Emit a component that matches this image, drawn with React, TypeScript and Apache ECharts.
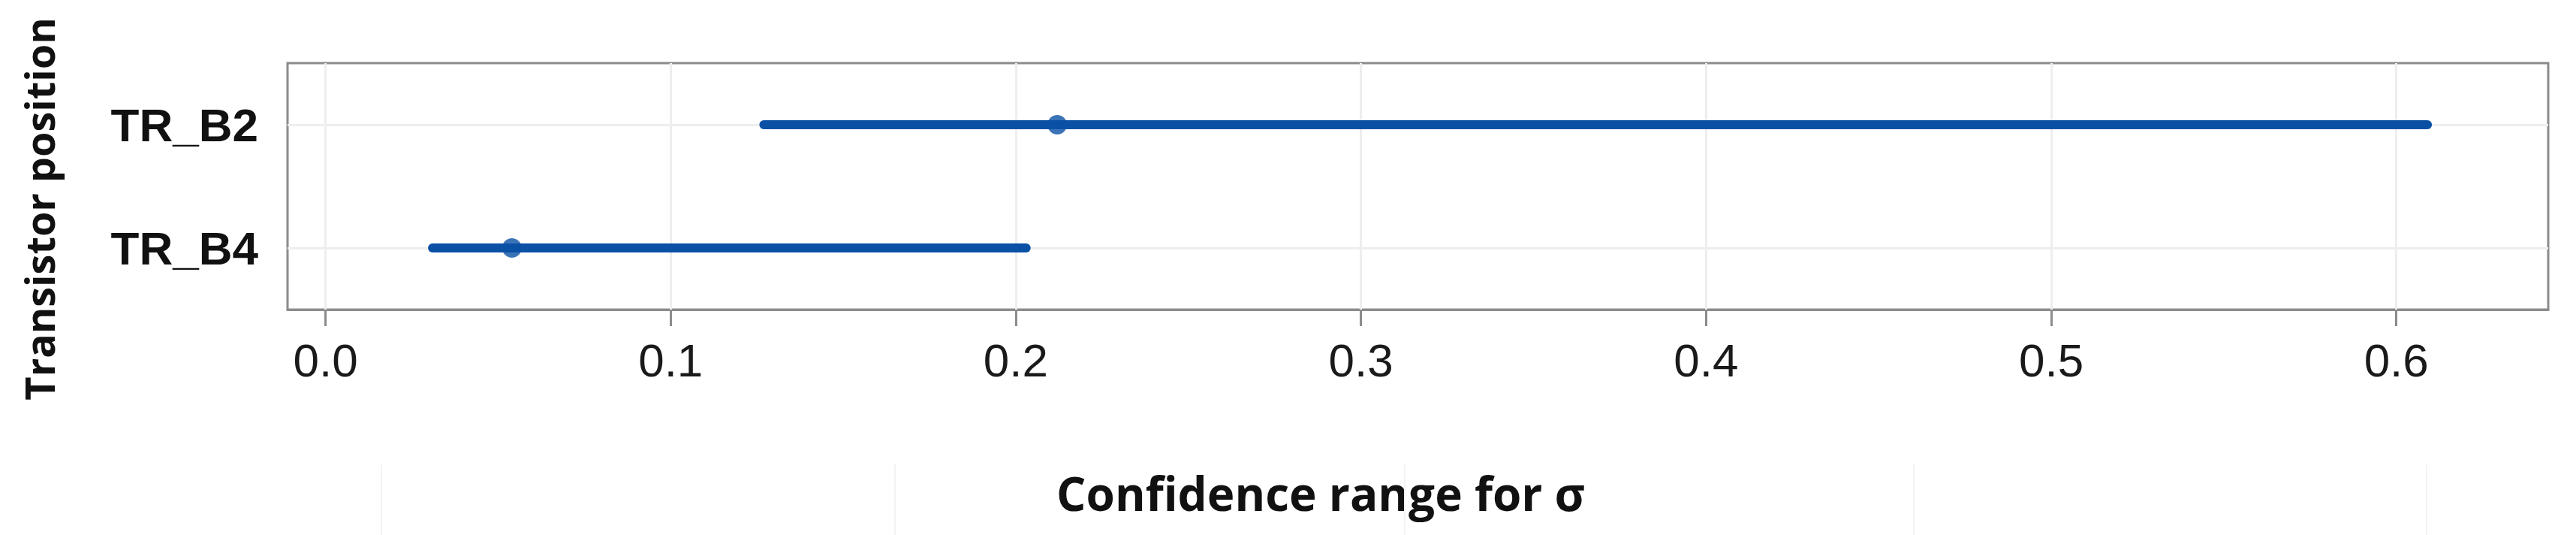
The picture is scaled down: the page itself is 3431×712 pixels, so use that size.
import React, { useEffect, useRef } from "react";
import * as echarts from "echarts";

const CATEGORIES = ["TR_B4", "TR_B2"];
const LOWER = [0.031, 0.127];
const ESTIMATE = [0.054, 0.212];
const UPPER = [0.203, 0.609];
const X_TICKS = [0, 0.1, 0.2, 0.3, 0.4, 0.5, 0.6];
const X_MIN = -0.011;
const X_MAX = 0.644;
const X_TITLE = "Confidence range for σ";
const Y_TITLE = "Transistor position";

const BLUE = "#0a50a5";
const FRAME = "#8c8c8c";
const GRIDLINE = "#eeeeee";

export default function App() {
  const ref = useRef<HTMLDivElement>(null);

  useEffect(() => {
    if (!ref.current) return;
    const chart = echarts.init(ref.current, undefined, { renderer: "svg" });

    const rangeSeries = CATEGORIES.map((c, i) => ({
      name: c + " range",
      type: "line",
      z: 3,
      showSymbol: false,
      symbol: "none",
      lineStyle: { color: BLUE, width: 12, cap: "round" },
      data: [
        [LOWER[i], i],
        [UPPER[i], i],
      ],
    }));

    const option: any = {
      animation: false,
      backgroundColor: "#ffffff",
      grid: {
        left: 383,
        top: 84,
        width: 3011,
        height: 328,
        show: true,
        borderColor: FRAME,
        borderWidth: 3,
        backgroundColor: "transparent",
      },
      xAxis: {
        type: "value",
        min: X_MIN,
        max: X_MAX,
        axisLine: { show: true, onZero: false, lineStyle: { color: FRAME, width: 3 } },
        axisTick: {
          show: true,
          length: 22,
          customValues: X_TICKS,
          lineStyle: { color: FRAME, width: 3 },
        },
        axisLabel: {
          customValues: X_TICKS,
          formatter: (v: number) => v.toFixed(1),
          fontSize: 62,
          fontFamily: "Liberation Sans",
          color: "#1a1a1a",
          margin: 36,
        },
        splitLine: { show: false },
      },
      yAxis: {
        type: "category",
        data: CATEGORIES,
        axisLine: { show: true, lineStyle: { color: FRAME, width: 3 } },
        axisTick: {
          show: true,
          alignWithLabel: true,
          length: 13,
          lineStyle: { color: FRAME, width: 3 },
        },
        axisLabel: {
          fontSize: 62,
          fontWeight: "bold",
          fontFamily: "Liberation Sans",
          color: "#111111",
          margin: 39,
        },
        splitLine: { show: false },
      },
      series: [
        {
          name: "grid",
          type: "line",
          z: 1,
          silent: true,
          data: [],
          markLine: {
            z: 1,
            silent: true,
            symbol: "none",
            label: { show: false },
            lineStyle: { color: GRIDLINE, width: 3, type: "solid" },
            data: [
              ...X_TICKS.map((v) => ({ xAxis: v })),
              ...CATEGORIES.map((c) => ({ yAxis: c })),
            ],
          },
        },
        ...rangeSeries,
        {
          name: "estimate",
          type: "scatter",
          z: 4,
          symbol: "circle",
          symbolSize: 26,
          itemStyle: { color: BLUE },
          data: CATEGORIES.map((c, i) => [ESTIMATE[i], i]),
        },
      ],
      graphic: [
        {
          type: "text",
          x: 1759,
          y: 656,
          style: {
            text: X_TITLE,
            fontSize: 62,
            fontWeight: "bold",
            fontFamily: "Open Sans",
            fill: "#111111",
            align: "center",
            verticalAlign: "middle",
          },
        },
        {
          type: "text",
          x: 52,
          y: 278,
          rotation: Math.PI / 2,
          style: {
            text: Y_TITLE,
            fontSize: 54,
            fontWeight: "bold",
            fontFamily: "Open Sans",
            fill: "#111111",
            align: "center",
            verticalAlign: "middle",
          },
        },
        ...[508, 1192, 1871, 2549, 3232].map((x) => ({
          type: "line",
          silent: true,
          shape: { x1: x, y1: 618, x2: x, y2: 712 },
          style: { stroke: "#f3f3f3", lineWidth: 2 },
        })),
      ],
    };

    chart.setOption(option);
    return () => chart.dispose();
  }, []);

  return (
    <div
      ref={ref}
      style={{ position: "absolute", left: 0, top: 0, width: 3431, height: 712 }}
    />
  );
}
